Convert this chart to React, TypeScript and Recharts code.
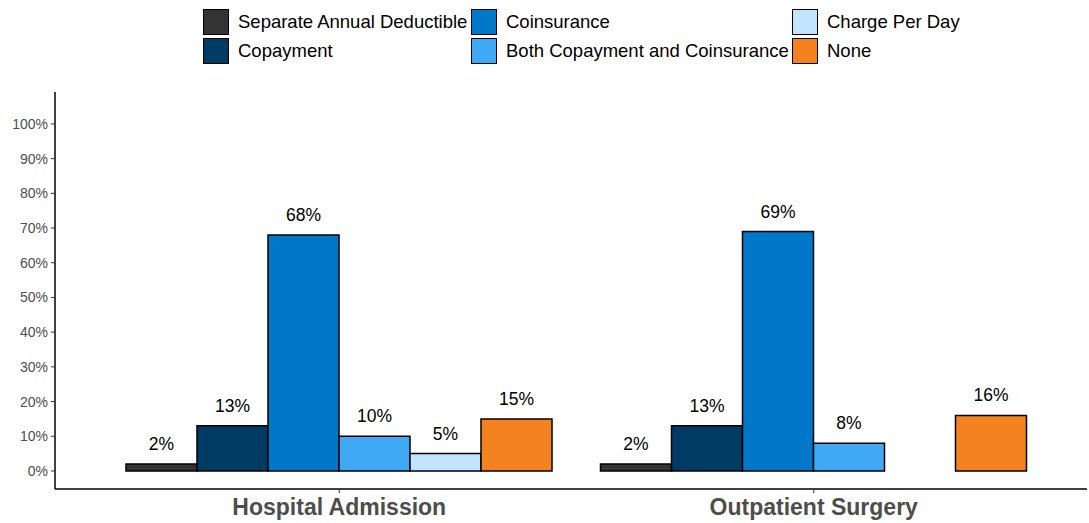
import { Bar, BarChart, LabelList, Legend, XAxis, YAxis } from "recharts";

const CATEGORIES = ["Hospital Admission", "Outpatient Surgery"];
const SERIES = [
  "Separate Annual Deductible",
  "Copayment",
  "Coinsurance",
  "Both Copayment and Coinsurance",
  "Charge Per Day",
  "None",
];
const SEPARATE = [2, 2];
const COPAY = [13, 13];
const COINS = [68, 69];
const BOTH = [10, 8];
const PER_DAY = [5, 0];
const NONE = [15, 16];
const Y_TICKS = [0, 10, 20, 30, 40, 50, 60, 70, 80, 90, 100];

const COLORS: Record<string, string> = {
  "Separate Annual Deductible": "#333333",
  Copayment: "#003B63",
  Coinsurance: "#0077C8",
  "Both Copayment and Coinsurance": "#3FA9F5",
  "Charge Per Day": "#C2E4FF",
  None: "#F58220",
};

const VALUES = [SEPARATE, COPAY, COINS, BOTH, PER_DAY, NONE];
const data = CATEGORIES.map((name, i) => {
  const row: Record<string, string | number> = { name };
  SERIES.forEach((s, j) => (row[s] = VALUES[j][i]));
  return row;
});

const FONT = "'Liberation Sans', Arial, sans-serif";
// legend reads column-major, like ggplot
const LEGEND_ORDER = [0, 2, 4, 1, 3, 5];

function LegendBox() {
  return (
    <div
      style={{
        display: "grid",
        gridTemplateColumns: "268px 321px 240px",
        fontFamily: FONT,
        fontSize: 18.5,
        color: "#000",
        marginLeft: 203,
      }}
    >
      {LEGEND_ORDER.map((k) => (
        <div key={SERIES[k]} style={{ display: "flex", alignItems: "center", height: 29 }}>
          <span
            style={{
              width: 26,
              height: 26,
              background: COLORS[SERIES[k]],
              border: "1.5px solid #000",
              boxSizing: "border-box",
              marginRight: 9,
              flexShrink: 0,
            }}
          />
          <span style={{ whiteSpace: "nowrap" }}>{SERIES[k]}</span>
        </div>
      ))}
    </div>
  );
}

const pct = (v: unknown) => (Number(v) > 0 ? `${v}%` : "");

export default function App() {
  return (
    <div style={{ position: "absolute", left: 0, top: 0 }}>
      <BarChart
        width={1089}
        height={523}
        data={data}
        margin={{ top: 92, right: 2, bottom: 0, left: 0 }}
        barCategoryGap={24}
        barGap={0}
      >
        <Legend
          layout="vertical"
          verticalAlign="middle"
          align="center"
          content={() => <LegendBox />}
          wrapperStyle={{ top: 7, left: 0, width: 1089, height: 60 }}
        />
        <XAxis
          dataKey="name"
          height={34}
          padding={{ left: 47, right: 36 }}
          tickSize={4}
          tickMargin={6}
          axisLine={{ stroke: "#000", strokeWidth: 1.5 }}
          tickLine={{ stroke: "#333" }}
          tick={{ fontSize: 23, fontWeight: "bold", fill: "#4d4d4d", fontFamily: FONT }}
        />
        <YAxis
          domain={[-5.2, 109.2]}
          allowDataOverflow
          ticks={Y_TICKS}
          interval={0}
          tickFormatter={(v) => `${v}%`}
          width={55}
          tickSize={4}
          tickMargin={3}
          axisLine={{ stroke: "#000", strokeWidth: 1.5 }}
          tickLine={{ stroke: "#333" }}
          tick={{ fontSize: 14, fill: "#4d4d4d", fontFamily: FONT }}
        />
        {SERIES.map((s) => (
          <Bar
            key={s}
            dataKey={s}
            fill={COLORS[s]}
            stroke="#000"
            strokeWidth={1.5}
            isAnimationActive={false}
          >
            <LabelList
              dataKey={s}
              position="top"
              offset={14}
              formatter={pct}
              style={{ fontSize: 17.5, fill: "#000", fontFamily: FONT }}
            />
          </Bar>
        ))}
      </BarChart>
    </div>
  );
}
